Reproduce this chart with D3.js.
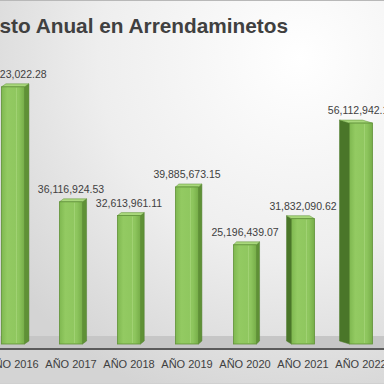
<!DOCTYPE html>
<html>
<head>
<meta charset="utf-8">
<script src="https://cdn.jsdelivr.net/npm/d3@7"></script>
<style>
  body { margin: 0; overflow: hidden; }
  svg { display: block; }
</style>
</head>
<body>
<div id="chart"></div>
<script>
// data
var years = ["AÑO 2016", "AÑO 2017", "AÑO 2018", "AÑO 2019", "AÑO 2020", "AÑO 2021", "AÑO 2022"];
var costs = [65323022.28, 36116924.53, 32613961.11, 39885673.15, 25196439.07, 31832090.62, 56112942.15];
var title = "Costo Anual en Arrendaminetos";

var data = years.map(function (y, i) { return { year: y, val: costs[i] }; });

var W = 384, H = 384;
var base = 344;

var svg = d3.select("#chart").append("svg")
  .attr("width", W)
  .attr("height", H);

var defs = svg.append("defs");
var bg = defs.append("radialGradient").attr("id", "bg")
  .attr("cx", "78%").attr("cy", "15%").attr("r", "95%");
bg.append("stop").attr("offset", "0%").attr("stop-color", "#ffffff");
bg.append("stop").attr("offset", "55%").attr("stop-color", "#eeeeee");
bg.append("stop").attr("offset", "100%").attr("stop-color", "#d4d4d4");

var front = defs.append("linearGradient").attr("id", "front")
  .attr("x1", "0%").attr("x2", "100%").attr("y1", "0%").attr("y2", "0%");
front.append("stop").attr("offset", "0%").attr("stop-color", "#7fb850");
front.append("stop").attr("offset", "25%").attr("stop-color", "#93ca62");
front.append("stop").attr("offset", "75%").attr("stop-color", "#8ec65e");
front.append("stop").attr("offset", "100%").attr("stop-color", "#76ad48");

svg.append("rect").attr("width", W).attr("height", H).attr("fill", "url(#bg)");
svg.append("line").attr("x1", 0).attr("x2", W).attr("y1", 0.5).attr("y2", 0.5)
  .attr("stroke", "#b8b8b8");
svg.append("line").attr("x1", 0).attr("x2", W).attr("y1", 383.5).attr("y2", 383.5)
  .attr("stroke", "#d0d0d0");

// scales
var x = d3.scaleBand()
  .domain(years)
  .range([-16, 390])
  .paddingInner(0.6)
  .paddingOuter(0.3);
var y = d3.scaleLinear()
  .domain([0, 70000000])
  .range([base, base - 70 * 3.937]);

// perspective: how far the back face is pushed sideways
var shift = d3.scaleLinear().domain([0, 255, 280, 384]).range([4.5, 3, -3, -12]);
var lift = 3;

// floor
svg.append("rect").attr("x", 0).attr("width", W)
  .attr("y", base - 8).attr("height", 12).attr("fill", "#c6c6c6");
svg.append("rect").attr("x", 0).attr("width", W)
  .attr("y", base + 4).attr("height", 2).attr("fill", "#5a5a5a");

var bw = 23;
var bars = svg.selectAll(".bar").data(data).enter().append("g").attr("class", "bar");

bars.each(function (d) {
  var g = d3.select(this);
  var cx = x(d.year) + x.bandwidth() / 2;
  var x0 = cx - bw / 2, x1 = cx + bw / 2;
  var top = y(d.val);
  var dx = shift(cx);
  var sx = dx > 0 ? x1 : x0;
  // side face
  g.append("path")
    .attr("d", "M" + sx + "," + top + "L" + (sx + dx) + "," + (top - lift) +
      "L" + (sx + dx) + "," + (base - lift) + "L" + sx + "," + base + "Z")
    .attr("fill", dx > 0 ? "#5f9136" : "#4a7629")
    .attr("stroke", "#4f7d2c").attr("stroke-width", 0.5);
  // top face
  g.append("path")
    .attr("d", "M" + x0 + "," + top + "L" + (x0 + dx) + "," + (top - lift) +
      "L" + (x1 + dx) + "," + (top - lift) + "L" + x1 + "," + top + "Z")
    .attr("fill", "#a9d87c")
    .attr("stroke", "#5f9136").attr("stroke-width", 0.5);
  // front face
  g.append("rect")
    .attr("x", x0).attr("y", top)
    .attr("width", bw).attr("height", base - top)
    .attr("fill", "url(#front)")
    .attr("stroke", "#5f9136").attr("stroke-width", 0.8);
  g.append("line")
    .attr("x1", x0 + bw * 0.65).attr("x2", x0 + bw * 0.65)
    .attr("y1", top + 1).attr("y2", base - 1)
    .attr("stroke", "#a6d67a").attr("stroke-width", 0.8);
});

// value labels
svg.selectAll(".val").data(data).enter().append("text")
  .attr("class", "val")
  .attr("x", function (d) { return x(d.year) + x.bandwidth() / 2; })
  .attr("y", function (d) { return y(d.val) - 9; })
  .attr("text-anchor", "middle")
  .attr("font-family", "Liberation Sans, Arial, sans-serif")
  .attr("font-size", "10.5px")
  .attr("fill", "#404040")
  .text(function (d) { return d3.format(",.2f")(d.val); });

// category axis
var xAxis = svg.append("g")
  .attr("transform", "translate(0," + (base + 6) + ")")
  .call(d3.axisBottom(x).tickSize(0).tickPadding(10));
xAxis.select(".domain").remove();
xAxis.selectAll("text")
  .attr("font-family", "Liberation Sans, Arial, sans-serif")
  .attr("font-size", "11px")
  .attr("fill", "#404040");

svg.append("text")
  .attr("x", 288).attr("y", 33)
  .attr("text-anchor", "end")
  .attr("font-family", "Liberation Sans, Arial, sans-serif")
  .attr("font-weight", "bold")
  .attr("font-size", "20.8px")
  .attr("fill", "#404040")
  .text(title);
</script>
</body>
</html>
